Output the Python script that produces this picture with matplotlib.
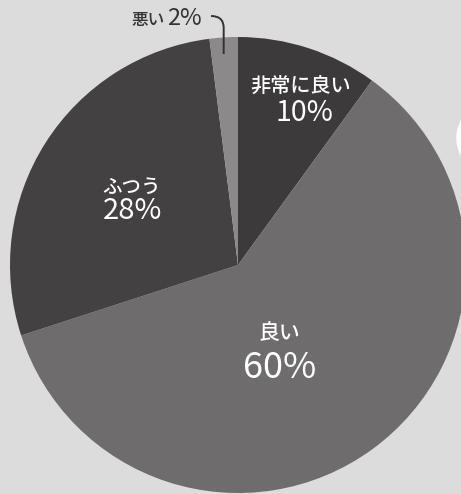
import matplotlib.pyplot as plt
import numpy as np
from matplotlib.patches import Circle
from matplotlib.path import Path
from matplotlib.patches import PathPatch

plt.rcParams['font.family'] = ['Noto Sans CJK JP', 'DejaVu Sans']

# データ（時計回り、上から）
categories = ["非常に良い", "良い", "ふつう", "悪い"]
values = [10, 60, 28, 2]
colors = ["#3d3a3b", "#6e6c6d", "#444142", "#8b898a"]

W, H = 461, 494
fig = plt.figure(figsize=(W / 100, H / 100), dpi=100)
fig.patch.set_facecolor("#dcdcdc")
ax = fig.add_axes([0, 0, 1, 1])

cx, cy, r = 238, H - 265, 228
wedges, _ = ax.pie(values, colors=colors, startangle=90, counterclock=False,
                   center=(cx, cy), radius=r, frame=True,
                   wedgeprops=dict(linewidth=0))
ax.set_xlim(0, W)
ax.set_ylim(0, H)
ax.set_aspect("equal")
ax.axis("off")

# 右端の白い図形
ax.add_patch(Circle((495, H - 138), 38, color="white", zorder=0))

# ラベル
ax.text(301, H - 87, categories[0], color="white", fontsize=14.5,
        fontweight="medium", ha="center", va="center")
ax.text(304, H - 113, f"{values[0]}%", color="white", fontsize=20.5,
        ha="center", va="center")
ax.text(132, H - 187, categories[2], color="white", fontsize=14,
        fontweight="medium", ha="center", va="center")
ax.text(133, H - 211, f"{values[2]}%", color="white", fontsize=21,
        ha="center", va="center")
ax.text(279, H - 333, categories[1], color="white", fontsize=15,
        fontweight="medium", ha="center", va="center")
ax.text(280, H - 368, f"{values[1]}%", color="white", fontsize=26,
        ha="center", va="center")

# 悪い 2% と引き出し線
ax.text(148, H - 20, categories[3], color="#333333", fontsize=12,
        fontweight="medium", ha="center", va="center")
ax.text(184, H - 19, f"{values[3]}%", color="#333333", fontsize=17,
        ha="center", va="center")
w = wedges[3]
mid = np.deg2rad((w.theta1 + w.theta2) / 2)
lx = cx + r * np.cos(mid)
verts = [(211, H - 16), (lx, H - 16), (lx, H - 28), (lx, H - 54)]
codes = [Path.MOVETO, Path.CURVE3, Path.CURVE3, Path.LINETO]
ax.add_patch(PathPatch(Path(verts, codes), fill=False, color="#333333", lw=1.4))

fig.savefig("out.png", dpi=100, facecolor=fig.get_facecolor())
